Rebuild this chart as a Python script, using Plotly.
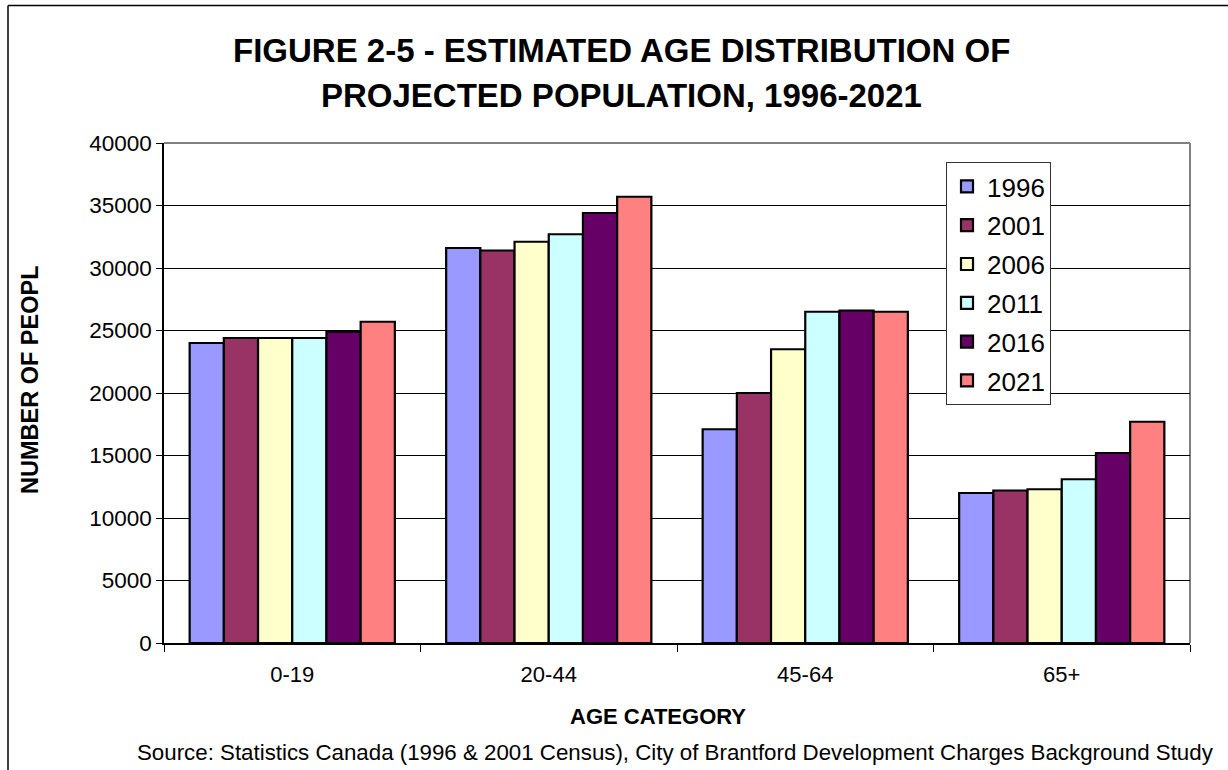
import plotly.graph_objects as go

# Age groups along the x axis
age_groups = ["0-19", "20-44", "45-64", "65+"]

# Projected population by age group, one series per year
pop_1996 = [24000, 31600, 17100, 12000]
pop_2001 = [24400, 31400, 20000, 12200]
pop_2006 = [24400, 32100, 23500, 12300]
pop_2011 = [24400, 32700, 26500, 13100]
pop_2016 = [24900, 34400, 26600, 15200]
pop_2021 = [25700, 35700, 26500, 17700]

years = ["1996", "2001", "2006", "2011", "2016", "2021"]
series = [pop_1996, pop_2001, pop_2006, pop_2011, pop_2016, pop_2021]
colors = ["#9999FF", "#993366", "#FFFFCC", "#CCFFFF", "#660066", "#FF8080"]

y_ticks = [0, 5000, 10000, 15000, 20000, 25000, 30000, 35000, 40000]

FONT = "Arial, Liberation Sans, sans-serif"

fig = go.Figure()
for yr, vals, col in zip(years, series, colors):
    fig.add_trace(go.Bar(
        x=age_groups, y=vals, name=yr, legendgroup=yr,
        marker=dict(color=col, line=dict(color="black", width=2.2)),
    ))

W, H = 1228, 770
L, R, T, B = 164, 38, 143, 127
pw, ph = W - L - R, H - T - B


def px_x(p):
    return (p - L) / pw


def px_y(p):
    return (H - B - p) / ph


fig.update_layout(
    width=W, height=H,
    margin=dict(l=L, r=R, t=T, b=B),
    paper_bgcolor="white", plot_bgcolor="white",
    barmode="group", bargap=0.2, bargroupgap=0,
    font=dict(family=FONT, color="black"),
    showlegend=True,
    legend=dict(
        x=px_x(946), y=px_y(162),
        xanchor="left", yanchor="top",
        bgcolor="white", bordercolor="#333333", borderwidth=1,
        font=dict(family=FONT, size=26, color="black"),
        traceorder="grouped", tracegroupgap=2,
        itemwidth=30,
    ),
    xaxis=dict(
        showline=True, linecolor="black", linewidth=1.5,
        ticks="outside", tickson="boundaries", ticklen=7, tickcolor="black",
        tickfont=dict(family=FONT, size=22, color="black"),
        ticklabelstandoff=11,
        showgrid=False, zeroline=False,
    ),
    yaxis=dict(
        range=[0, 40000], tickvals=y_ticks, tickformat="d",
        showline=True, linecolor="black", linewidth=1.5,
        ticks="outside", ticklen=6, tickcolor="black",
        tickfont=dict(family=FONT, size=22.5, color="black"),
        showgrid=True, gridcolor="black", gridwidth=1.2,
        zeroline=False,
    ),
)

# grey frame on top and right of the plotting area
fig.add_shape(type="line", xref="paper", yref="paper", x0=0, x1=1, y0=1, y1=1,
              line=dict(color="#808080", width=2), layer="below")
fig.add_shape(type="line", xref="paper", yref="paper", x0=1, x1=1, y0=0, y1=1,
              line=dict(color="#808080", width=2), layer="below")

# outer chart border (top and left edges)
fig.add_shape(type="line", xref="paper", yref="paper",
              x0=px_x(8), x1=px_x(1240), y0=px_y(5.5), y1=px_y(5.5),
              line=dict(color="black", width=1.5))
fig.add_shape(type="line", xref="paper", yref="paper",
              x0=px_x(8), x1=px_x(8), y0=px_y(5.5), y1=px_y(780),
              line=dict(color="black", width=1.5))

# two-line chart title
title_lines = ["FIGURE 2-5 - ESTIMATED AGE DISTRIBUTION OF",
               "PROJECTED POPULATION, 1996-2021"]
for line, yc in zip(title_lines, [50, 96]):
    fig.add_annotation(
        text=f"<b>{line}</b>",
        xref="paper", yref="paper", x=px_x(621), y=px_y(yc),
        xanchor="center", yanchor="middle",
        showarrow=False, font=dict(family=FONT, size=33, color="black"),
    )

fig.add_annotation(
    text="<b>NUMBER OF PEOPL</b>", textangle=-90,
    xref="paper", yref="paper", x=px_x(30), y=px_y(380), xanchor="center", yanchor="middle",
    showarrow=False, font=dict(family=FONT, size=23.5, color="black"),
)
fig.add_annotation(
    text="<b>AGE CATEGORY</b>",
    xref="paper", yref="paper", x=px_x(658), y=px_y(716), xanchor="center", yanchor="middle",
    showarrow=False, font=dict(family=FONT, size=22, color="black"),
)
fig.add_annotation(
    text="Source: Statistics Canada (1996 & 2001 Census), City of Brantford Development Charges Background Study",
    xref="paper", yref="paper", x=px_x(1216), y=px_y(752), xanchor="right", yanchor="middle",
    showarrow=False, font=dict(family=FONT, size=22.3, color="black"),
)

fig.write_html("out.html")
